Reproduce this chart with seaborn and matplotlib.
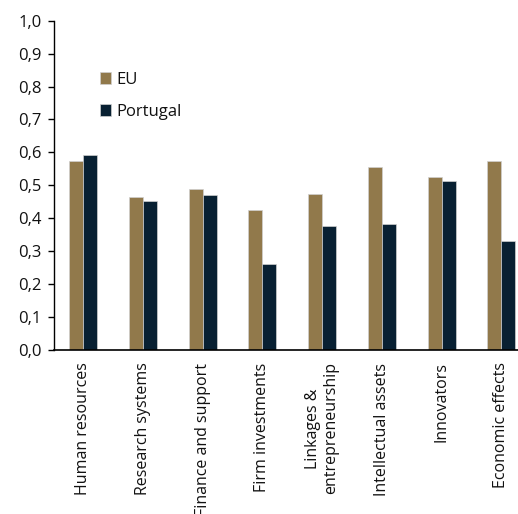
import matplotlib
matplotlib.use("Agg")
import matplotlib.pyplot as plt
import seaborn as sns
import pandas as pd
from matplotlib.ticker import FuncFormatter

categories = ["Human resources", "Research systems", "Finance and support",
              "Firm investments", "Linkages &\nentrepreneurship", "Intellectual assets",
              "Innovators", "Economic effects"]
eu = [0.575, 0.466, 0.489, 0.425, 0.473, 0.556, 0.525, 0.573]
portugal = [0.591, 0.452, 0.471, 0.260, 0.377, 0.384, 0.512, 0.331]
series = ["EU", "Portugal"]
colors = ["#9C7D40", "#012139"]

df = pd.DataFrame({
    "category": categories * 2,
    "value": eu + portugal,
    "series": [series[0]] * len(categories) + [series[1]] * len(categories),
})

sns.set_style("white")
plt.rcParams['font.family'] = ['Open Sans', 'DejaVu Sans']

fig = plt.figure(figsize=(5.18, 5.14), dpi=100)
ax = fig.add_axes([54/518, 1 - 350/514, 1 - 54/518, (350 - 20.7)/514])

sns.barplot(data=df, x="category", y="value", hue="series", palette=colors,
            order=categories, hue_order=series, width=0.47, gap=0,
            edgecolor="#d0d0d0", linewidth=0.5, ax=ax, legend=True)

ax.set_ylim(0, 1.0)
ax.set_xlim(-0.49, 7.28)
ax.set_yticks([i / 10 for i in range(11)])
ax.yaxis.set_major_formatter(FuncFormatter(lambda v, p: f"{v:.1f}".replace(".", ",")))
ax.tick_params(axis="y", labelsize=12, length=4, width=1, direction="out", left=True,
               colors="black", labelcolor="#111111", pad=5)
ax.tick_params(axis="x", labelsize=11.5, length=0, pad=9, rotation=90, labelcolor="#111111")
ax.set_xlabel("")
ax.set_ylabel("")
for s in ["top", "right"]:
    ax.spines[s].set_visible(False)
ax.spines["left"].set_color("black")
ax.spines["bottom"].set_color("black")
ax.spines["left"].set_linewidth(1)
ax.spines["bottom"].set_linewidth(1.2)

for lbl in ax.get_xticklabels():
    lbl.set_va("top")
    lbl.set_ha("center")
    lbl.set_multialignment("center")

leg = ax.legend(loc="upper left", bbox_to_anchor=(0.085, 0.865), frameon=False,
                fontsize=12, handlelength=0.65, handleheight=0.75, handletextpad=0.35,
                labelspacing=0.95, borderaxespad=0)
for t in leg.get_texts():
    t.set_color("#111111")

fig.savefig("out.png", dpi=100)
